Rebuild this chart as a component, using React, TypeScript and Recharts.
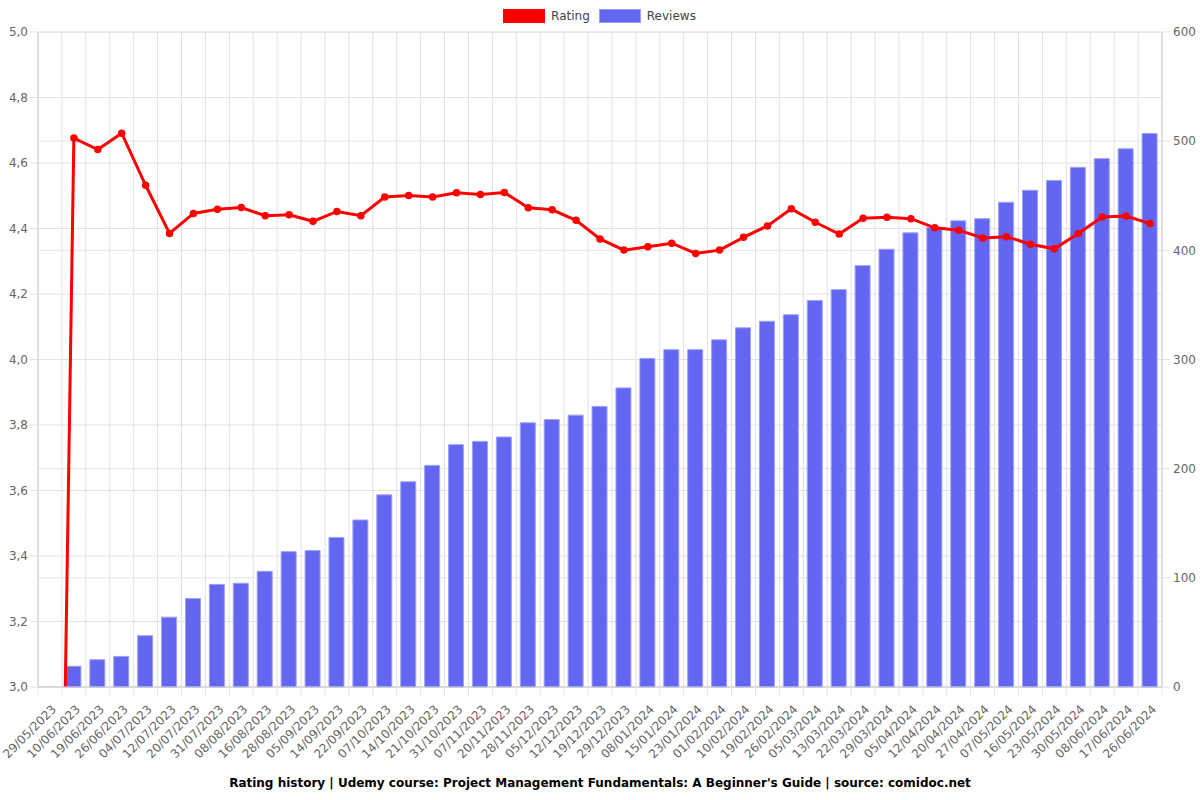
import { ComposedChart, Bar, Line, XAxis, YAxis, CartesianGrid } from 'recharts';

const dates = [
  '29/05/2023', '10/06/2023', '19/06/2023', '26/06/2023', '04/07/2023', '12/07/2023', '20/07/2023',
  '31/07/2023', '08/08/2023', '16/08/2023', '28/08/2023', '05/09/2023', '14/09/2023', '22/09/2023',
  '07/10/2023', '14/10/2023', '21/10/2023', '31/10/2023', '07/11/2023', '20/11/2023', '28/11/2023',
  '05/12/2023', '12/12/2023', '19/12/2023', '29/12/2023', '08/01/2024', '15/01/2024', '23/01/2024',
  '01/02/2024', '10/02/2024', '19/02/2024', '26/02/2024', '05/03/2024', '13/03/2024', '22/03/2024',
  '29/03/2024', '05/04/2024', '12/04/2024', '20/04/2024', '27/04/2024', '07/05/2024', '16/05/2024',
  '23/05/2024', '30/05/2024', '08/06/2024', '17/06/2024', '26/06/2024',
];

const ratings = [
  0, 4.676, 4.641, 4.691, 4.532, 4.385, 4.446, 4.459, 4.464, 4.439, 4.442, 4.422, 4.452, 4.439,
  4.496, 4.501, 4.496, 4.509, 4.504, 4.51, 4.463, 4.457, 4.425, 4.368, 4.334, 4.344, 4.355, 4.324,
  4.334, 4.373, 4.408, 4.46, 4.419, 4.383, 4.431, 4.434, 4.43, 4.402, 4.395, 4.371, 4.375, 4.352,
  4.338, 4.385, 4.435, 4.438, 4.415,
];

const reviews = [
  0, 19, 25, 28, 47, 64, 81, 94, 95, 106, 124, 125, 137, 153, 176, 188, 203, 222, 225, 229, 242,
  245, 249, 257, 274, 301, 309, 309, 318, 329, 335, 341, 354, 364, 386, 401, 416, 421, 427, 429,
  444, 455, 464, 476, 484, 493, 507,
];

const ratingTicks = [3, 3.2, 3.4, 3.6, 3.8, 4, 4.2, 4.4, 4.6, 4.8, 5];
const reviewTicks = [0, 100, 200, 300, 400, 500, 600];
// category boundaries (grid lines sit between the bars, not on them)
const boundaryTicks = dates.map((_, i) => i).concat(dates.length);

const data = dates.map((date, i) => ({ date, slot: i + 0.5, rating: ratings[i], reviews: reviews[i] }));

const GRID = '#e2e2e2';
const AXIS = '#cccccc';
const TEXT = '#666';

function DateTick({ x, y, payload }: any) {
  const ax = x + 7;
  const ay = y + 22;
  return (
    <text
      x={ax}
      y={ay}
      transform={`rotate(-45, ${ax}, ${ay})`}
      textAnchor="end"
      fill={TEXT}
      fontSize={12}
    >
      {payload.value}
    </text>
  );
}

function LegendBox({ color, border, label, gap }: { color: string; border: string; label: string; gap: number }) {
  return (
    <div style={{ display: 'flex', alignItems: 'center', marginRight: gap }}>
      <span
        style={{
          display: 'inline-block',
          width: 40,
          height: 12,
          background: color,
          outline: border,
          marginRight: 7,
        }}
      />
      <span style={{ fontSize: 12, color: '#444', lineHeight: '14px' }}>{label}</span>
    </div>
  );
}

export default function App() {
  return (
    <div
      style={{
        position: 'absolute',
        left: 0,
        top: 0,
        width: 1200,
        height: 800,
        background: '#fff',
        fontFamily: '"DejaVu Sans", sans-serif',
      }}
    >
      <div
        style={{
          position: 'absolute',
          top: 9,
          left: 0,
          width: 1200,
          display: 'flex',
          justifyContent: 'center',
        }}
      >
        <LegendBox color="#ff0000" border="1.5px solid #ff0000" label="Rating" gap={10} />
        <LegendBox color="#6366f1" border="0.5px solid #9ea0f7" label="Reviews" gap={0} />
      </div>

      <ComposedChart
        width={1200}
        height={800}
        data={data}
        margin={{ top: 32, right: 0, bottom: 0, left: 0 }}
      >
        <CartesianGrid xAxisId="b" yAxisId="left" stroke={GRID} />
        <CartesianGrid xAxisId="b" yAxisId="right" stroke={GRID} vertical={false} />
        <XAxis
          xAxisId="b"
          dataKey="slot"
          type="number"
          domain={[0, dates.length]}
          ticks={boundaryTicks}
          allowDataOverflow
          tick={() => <g />}
          tickSize={8}
          tickLine={{ stroke: GRID }}
          axisLine={{ stroke: AXIS }}
          height={1}
        />
        <XAxis
          xAxisId="c"
          dataKey="date"
          interval={0}
          tickLine={false}
          axisLine={false}
          tickSize={0}
          tickMargin={0}
          height={112}
          tick={<DateTick />}
        />
        <YAxis
          yAxisId="left"
          domain={[3, 5]}
          ticks={ratingTicks}
          allowDataOverflow
          width={38}
          tickSize={8}
          tickMargin={2}
          tickLine={{ stroke: GRID }}
          axisLine={{ stroke: AXIS }}
          tick={{ fill: TEXT, fontSize: 12 }}
          tickFormatter={(v: number) => v.toFixed(1).replace('.', ',')}
        />
        <YAxis
          yAxisId="right"
          orientation="right"
          domain={[0, 600]}
          ticks={reviewTicks}
          width={38}
          tickSize={8}
          tickMargin={3}
          tickLine={{ stroke: GRID }}
          axisLine={{ stroke: AXIS }}
          tick={{ fill: TEXT, fontSize: 12, textAnchor: 'start' }}
        />
        <Bar
          xAxisId="c"
          yAxisId="right"
          dataKey="reviews"
          name="Reviews"
          barSize={15}
          fill="#6366f1"
          stroke="#9ea0f7"
          strokeWidth={1}
          isAnimationActive={false}
        />
        <Line
          xAxisId="c"
          yAxisId="left"
          dataKey="rating"
          name="Rating"
          type="linear"
          stroke="#ff0000"
          strokeWidth={3}
          dot={{ r: 3, fill: '#ff0000', stroke: '#ff0000', strokeWidth: 1.5 }}
          isAnimationActive={false}
        />
      </ComposedChart>

      <div
        style={{
          position: 'absolute',
          top: 776,
          left: 0,
          width: 1200,
          textAlign: 'center',
          fontSize: 12,
          fontWeight: 'bold',
          lineHeight: '14px',
          color: '#000',
        }}
      >
        Rating history | Udemy course: Project Management Fundamentals: A Beginner's Guide | source:
        comidoc.net
      </div>
    </div>
  );
}
